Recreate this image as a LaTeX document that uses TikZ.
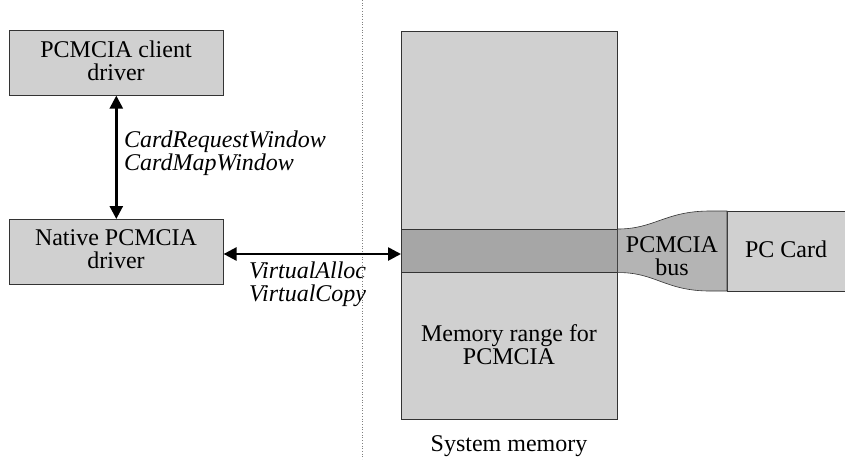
\documentclass[tikz,border=0pt]{standalone}
\usepackage{fontspec}
\setmainfont{Liberation Serif}
\usetikzlibrary{arrows.meta}
\definecolor{boxgray}{HTML}{D0D0D0}
\definecolor{bandgray}{HTML}{A6A6A6}
\definecolor{busgray}{HTML}{B4B4B4}
\begin{document}
\begin{tikzpicture}[x=1pt,y=-1pt,
  txt/.style={font=\fontsize{24}{23}\selectfont, align=center, inner sep=0pt},
  itxt/.style={font=\fontsize{24}{23}\selectfont\itshape, align=left, inner sep=0pt},
  graybox/.style={draw=black!80, line width=0.6pt, fill=boxgray},
  dbl/.style={line width=2.6pt, {Triangle[width=13pt,length=13pt]}-{Triangle[width=13pt,length=13pt]}}
]
\useasboundingbox (0,0) rectangle (845,459);
% dotted separator
\draw[black!50, line width=0.7pt, dotted] (362,0) -- (362,459);
% left boxes
\node[graybox, minimum width=214pt, minimum height=65pt, anchor=north west] (client) at (9,30) {};
\node[txt] (clientlbl) at (116,60.5) {PCMCIA client\\driver};
\node[graybox, minimum width=214pt, minimum height=65pt, anchor=north west] (native) at (9,219) {};
\node[txt] (nativelbl) at (116,249.5) {Native PCMCIA\\driver};
% system memory
\node[graybox, minimum width=216pt, minimum height=388pt, anchor=north west] (mem) at (401,31) {};
\node[graybox, fill=bandgray, minimum width=216pt, minimum height=43pt, anchor=north west] (band) at (401,229) {};
\node[txt] (memlbl) at (509,345) {Memory range for\\PCMCIA};
\node[txt] (syslbl) at (509,446) {System memory};
% PC card
\coordinate (cardtl) at (727,211);
\coordinate (cardbl) at (727,291);
\filldraw[draw=black!80, line width=0.6pt, fill=boxgray] (850,211) -- (cardtl) -- (cardbl) -- (850,291);
\node[txt] (card) at (786,249) {PC Card};
% bus
\filldraw[draw=black!80, line width=0.6pt, fill=busgray]
  (band.north east) .. controls (655,229) and (665,211) .. (710,211) -- (cardtl) -- (cardbl) -- (710,291)
  .. controls (665,291) and (655,272) .. (band.south east) -- cycle;
\node[txt] (bus) at (672,256) {PCMCIA\\bus};
% arrows
\draw[dbl] (client.south) -- (native.north);
\node[itxt, anchor=west] (lbl1) at (124,153) {CardRequestWindow\\CardMapWindow};
\coordinate (memin) at (401,254);
\draw[dbl] (native.east |- memin) -- (memin);
\node[itxt, anchor=west] (lbl2) at (249,284) {VirtualAlloc\\VirtualCopy};
\end{tikzpicture}
\end{document}
